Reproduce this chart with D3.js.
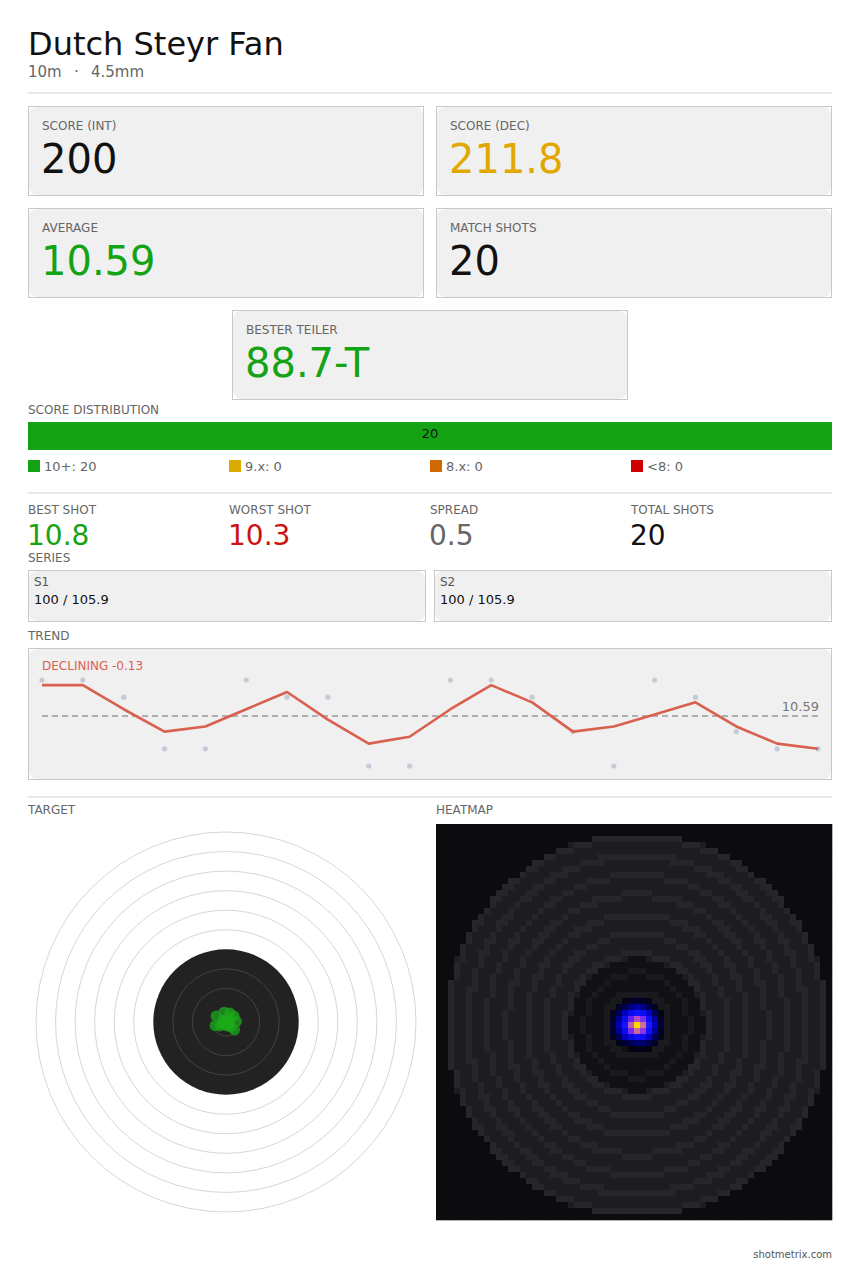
<!DOCTYPE html>
<html>
<head>
<meta charset="utf-8">
<script src="https://cdn.jsdelivr.net/npm/d3@7"></script>
<style>
  body { margin: 0; background: #fff; }
  svg text { font-family: "DejaVu Sans", sans-serif; white-space: pre; }
</style>
</head>
<body>
<div id="container"></div>
<script>
/* CONSTANTS AND DATA */
const width = 860;
const height = 1270;

const title = "Dutch Steyr Fan";
const subtitle = "10m\u2002\u00a0\u00b7\u2002\u00a04.5mm";

const cardLabels = ["SCORE (INT)", "SCORE (DEC)", "AVERAGE", "MATCH SHOTS", "BESTER TEILER"];
const cardValues = ["200", "211.8", "10.59", "20", "88.7-T"];
const cardColors = ["#111", "#e0a800", "#14a314", "#111", "#14a314"];

const distLabels = ["10+", "9.x", "8.x", "<8"];
const distCounts = [20, 0, 0, 0];
const distColors = ["#14a314", "#d9aa00", "#d06a00", "#d00000"];

const statLabels = ["BEST SHOT", "WORST SHOT", "SPREAD", "TOTAL SHOTS"];
const statValues = ["10.8", "10.3", "0.5", "20"];
const statColors = ["#14a314", "#cc1111", "#666", "#111"];

const seriesNames = ["S1", "S2"];
const seriesInt = [100, 100];
const seriesDec = [105.9, 105.9];

// shot-by-shot decimal scores
const shotScores = [10.8, 10.8, 10.7, 10.4, 10.4, 10.8, 10.7, 10.7, 10.3, 10.3,
                     10.8, 10.8, 10.7, 10.5, 10.3, 10.8, 10.7, 10.5, 10.4, 10.4];
// smoothed trend line
const trendValues = [10.77, 10.77, 10.63, 10.5, 10.53, 10.63, 10.73, 10.57, 10.43, 10.47,
                     10.63, 10.77, 10.67, 10.5, 10.53, 10.6, 10.67, 10.53, 10.43, 10.4];
const meanScore = 10.59;
const trendText = "DECLINING -0.13";

// shot positions on target, mm from centre (y down)
const shotX = [0.6, -0.7, 1.4, -0.8, 1.6, 0.2, -1.2, 0.3, -4.1, -4.5,
               -0.5, 0.8, -1.5, -2.5, 3.5, -0.3, 1.0, 2.0, 3.3, 4.3];
const shotY = [-0.5, 0.4, -0.8, -4.0, -3.7, 0.8, 1.0, 1.6, -2.5, 1.5,
               -0.6, 0.2, -0.6, 1.6, 3.3, 0.7, 1.2, 2.0, -2.5, -0.3];
const caliber = 4.5; // mm

// 10m air pistol ring radii (mm), ring 1 .. 10, inner ten
const ringRadii = [77.75, 69.75, 61.75, 53.75, 45.75, 37.75, 29.75, 21.75, 13.75, 5.75, 2.5];
const blackRadius = 29.75;

/* SVG */
const svg = d3.select("#container")
  .append("svg")
  .attr("width", width)
  .attr("height", height);

// card helper: square border, rounded fill inside
function card(x, y, w, h) {
  svg.append("rect").attr("x", x + 0.5).attr("y", y + 0.5).attr("width", w - 1).attr("height", h - 1)
    .attr("fill", "#fff").attr("stroke", "#c8c8c8");
  svg.append("rect").attr("x", x + 1).attr("y", y + 1).attr("width", w - 2).attr("height", h - 2)
    .attr("rx", 8).attr("fill", "#f0f0f0");
}
function label(x, y, t, anchor) {
  return svg.append("text").attr("x", x).attr("y", y).attr("text-anchor", anchor || "start")
    .style("font-size", "12px").attr("fill", "#666").text(t);
}
function sep(y) {
  svg.append("line").attr("x1", 28).attr("x2", 832).attr("y1", y).attr("y2", y)
    .attr("stroke", "#e8e8e8").attr("stroke-width", 2);
}

/* HEADER */
svg.append("text").attr("x", 28).attr("y", 55).style("font-size", "32px").attr("fill", "#111").text(title);
svg.append("text").attr("x", 28).attr("y", 77).style("font-size", "15px").attr("fill", "#666").text(subtitle);
sep(93);

/* KPI CARDS */
const cardPos = [[28, 106], [436, 106], [28, 208], [436, 208], [232, 310]];
cardLabels.forEach((l, i) => {
  const [x, y] = cardPos[i];
  card(x, y, 396, 90);
  label(x + 14, y + 24, l);
  svg.append("text").attr("x", x + 13).attr("y", y + 67).style("font-size", "40px")
    .attr("fill", cardColors[i]).text(cardValues[i]);
});

/* SCORE DISTRIBUTION */
label(28, 414, "SCORE DISTRIBUTION");
const total = d3.sum(distCounts);
const xDist = d3.scaleLinear().domain([0, total]).range([28, 832]);
let acc = 0;
distCounts.forEach((c, i) => {
  if (c > 0) {
    svg.append("rect").attr("x", xDist(acc)).attr("y", 422)
      .attr("width", xDist(acc + c) - xDist(acc)).attr("height", 28).attr("fill", distColors[i]);
    svg.append("text").attr("x", (xDist(acc) + xDist(acc + c)) / 2).attr("y", 438)
      .attr("text-anchor", "middle").style("font-size", "13px").attr("fill", "#111").text(c);
  }
  acc += c;
});
const xLegend = d3.scalePoint().domain(distLabels).range([28, 631]);
distLabels.forEach((l, i) => {
  svg.append("rect").attr("x", xLegend(l)).attr("y", 460).attr("width", 12).attr("height", 12)
    .attr("fill", distColors[i]);
  svg.append("text").attr("x", xLegend(l) + 16).attr("y", 471).style("font-size", "13px")
    .attr("fill", "#666").text(`${l}: ${distCounts[i]}`);
});
sep(493);

/* SHOT STATS */
const xStat = d3.scalePoint().domain(statLabels).range([28, 631]);
statLabels.forEach((l, i) => {
  label(xStat(l), 514, l);
  svg.append("text").attr("x", xStat(l) - 1).attr("y", 545).style("font-size", "28px")
    .attr("fill", statColors[i]).text(statValues[i]);
});

/* SERIES */
label(28, 562, "SERIES");
seriesNames.forEach((s, i) => {
  const x = i === 0 ? 28 : 434;
  card(x, 570, 398, 52);
  svg.append("text").attr("x", x + 6).attr("y", 586).style("font-size", "12px").attr("fill", "#555").text(s);
  svg.append("text").attr("x", x + 6).attr("y", 604).style("font-size", "13px").attr("fill", "#111")
    .text(`${seriesInt[i]} / ${seriesDec[i].toFixed(1)}`);
});

/* TREND */
label(28, 640, "TREND");
card(28, 648, 804, 132);
const xTrend = d3.scalePoint().domain(d3.range(shotScores.length)).range([42, 818]);
const yTrend = d3.scaleLinear().domain([10.3, 10.8]).range([766, 680]);
svg.append("text").attr("x", 42).attr("y", 670).style("font-size", "12px").attr("fill", "#d9604f").text(trendText);
svg.append("line").attr("x1", 42).attr("x2", 818).attr("y1", yTrend(meanScore)).attr("y2", yTrend(meanScore))
  .attr("stroke", "#999").attr("stroke-width", 1.5).attr("stroke-dasharray", "6,4");
svg.append("text").attr("x", 819).attr("y", yTrend(meanScore) - 5).attr("text-anchor", "end")
  .style("font-size", "13px").attr("fill", "#777").text(meanScore.toFixed(2));
svg.selectAll(".shot-dot").data(shotScores).enter().append("circle")
  .attr("class", "shot-dot")
  .attr("cx", (d, i) => xTrend(i)).attr("cy", d => yTrend(d)).attr("r", 2.6).attr("fill", "#c4cad8");
svg.append("path").datum(trendValues)
  .attr("d", d3.line().x((d, i) => xTrend(i)).y(d => yTrend(d)))
  .attr("fill", "none").attr("stroke", "#d9604f").attr("stroke-width", 2.6).attr("stroke-linejoin", "round");
sep(797);

/* TARGET */
label(28, 814, "TARGET");
const tcx = 226, tcy = 1022;
const rScale = d3.scaleLinear().domain([0, 77.75]).range([0, 190]);
const tg = svg.append("g").attr("transform", `translate(${tcx},${tcy})`);
ringRadii.filter(r => r > blackRadius).forEach(r => {
  tg.append("circle").attr("r", rScale(r)).attr("fill", "none").attr("stroke", "#c4c4c4").attr("stroke-width", 0.7);
});
tg.append("circle").attr("r", rScale(blackRadius)).attr("fill", "#222");
ringRadii.filter(r => r < blackRadius).forEach(r => {
  tg.append("circle").attr("r", rScale(r)).attr("fill", "none").attr("stroke", "#4a4a4a").attr("stroke-width", 0.8);
});
tg.selectAll(".shot").data(shotX).enter().append("circle")
  .attr("class", "shot")
  .attr("cx", d => rScale(d)).attr("cy", (d, i) => rScale(shotY[i]))
  .attr("r", rScale(caliber / 2))
  .attr("fill", "#1aaa1a").attr("fill-opacity", 0.72);

/* HEATMAP */
label(436, 814, "HEATMAP");
const hx0 = 436, hy0 = 824, hSize = 396, nCells = 66;
const cellPx = hSize / nCells;
const hcx = hx0 + 33.5 * cellPx, hcy = hy0 + 33.5 * cellPx; // centre of the middle cell
const xHeat = d3.scaleLinear().domain([0, 77.75]).range([hcx, hcx + 190]);
const yHeat = d3.scaleLinear().domain([0, 77.75]).range([hcy, hcy + 190]);
const cellMm = rScale.invert(cellPx);
const sigma = 2.6;

const cells = [];
for (let j = 0; j < nCells; j++) {
  for (let i = 0; i < nCells; i++) {
    const mx = xHeat.invert(hx0 + (i + 0.5) * cellPx);
    const my = yHeat.invert(hy0 + (j + 0.5) * cellPx);
    const r = Math.hypot(mx, my);
    let dens = 0;
    shotX.forEach((sx, k) => {
      const d2 = (mx - sx) ** 2 + (my - shotY[k]) ** 2;
      dens += Math.exp(-d2 / (2 * sigma * sigma));
    });
    const onRing = ringRadii.some(R => (R - r) > -0.25 * cellMm && (R - r) < 0.75 * cellMm);
    cells.push({ i, j, r, dens, onRing });
  }
}
const maxDens = d3.max(cells, d => d.dens);
const heatColor = d3.scaleLinear()
  .domain([0.0015, 0.016, 0.1, 0.3, 0.5, 0.68, 0.97])
  .range(["#05050e", "#000038", "#0000c0", "#1010ff", "#5a20ff", "#b040d8", "#ffd800"])
  .clamp(true);
function baseColor(d) {
  if (d.r > ringRadii[0] + cellMm * 0.3) return "#0c0c0e";
  if (d.r < blackRadius - cellMm) return d.onRing ? "#1a1a1e" : "#111114";
  return d.onRing ? "#25252a" : "#1d1d21";
}
svg.append("g").selectAll("rect").data(cells).enter().append("rect")
  .attr("x", d => hx0 + d.i * cellPx).attr("y", d => hy0 + d.j * cellPx)
  .attr("width", cellPx + 0.3).attr("height", cellPx + 0.3)
  .attr("fill", d => {
    const t = d.dens / maxDens;
    return t > 0.0015 ? heatColor(t) : baseColor(d);
  });

/* FOOTER */
svg.append("text").attr("x", 832).attr("y", 1258).attr("text-anchor", "end")
  .style("font-size", "10px").attr("fill", "#555").text("shotmetrix.com");
</script>
</body>
</html>
